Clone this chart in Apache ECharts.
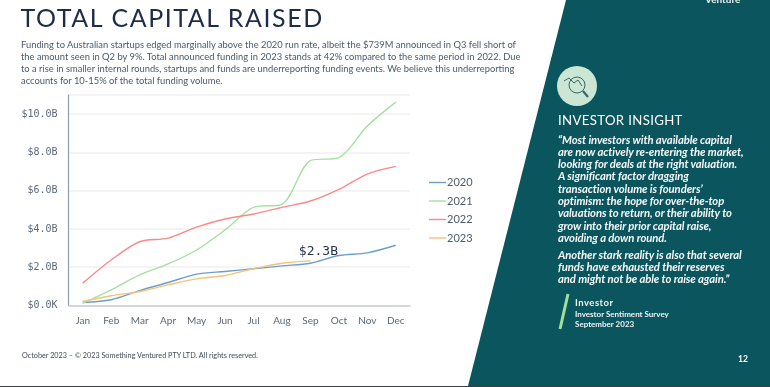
<!DOCTYPE html>
<html><head><meta charset="utf-8">
<script src="https://cdn.jsdelivr.net/npm/echarts@6/dist/echarts.min.js"></script>
<style>
html,body{margin:0;padding:0;background:#fff;width:770px;height:387px;overflow:hidden}
#c{position:absolute;left:0;top:0;width:770px;height:387px}
.t{position:absolute;white-space:nowrap;font-family:Lato,sans-serif;line-height:1}
</style></head><body>
<div id="c"></div>
<div id="txt"></div>
<script>
const months=['Jan','Feb','Mar','Apr','May','Jun','Jul','Aug','Sep','Oct','Nov','Dec'];
const v2020=[0.16,0.30,0.78,1.20,1.64,1.78,1.92,2.07,2.21,2.61,2.75,3.15];
const v2021=[0.12,0.82,1.60,2.17,2.90,3.95,5.13,5.29,7.57,7.73,9.38,10.63];
const v2022=[1.17,2.38,3.33,3.52,4.10,4.52,4.78,5.13,5.46,6.07,6.87,7.27];
const v2023=[0.21,0.51,0.73,1.08,1.39,1.57,1.92,2.21,2.33];
const callout='$2.3B';
const titleText='TOTAL CAPITAL RAISED';
const para=['Funding to Australian startups edged marginally above the 2020 run rate, albeit the $739M announced in Q3 fell short of',
'the amount seen in Q2 by 9%. Total announced funding in 2023 stands at 42% compared to the same period in 2022. Due',
'to a rise in smaller internal rounds, startups and funds are underreporting funding events. We believe this underreporting',
'accounts for 10-15% of the total funding volume.'];
const quote=['“Most investors with available capital','are now actively re-entering the market,','looking for deals at the right valuation.','A significant factor dragging','transaction volume is founders’','optimism: the hope for over-the-top','valuations to return, or their ability to','grow into their prior capital raise,','avoiding a down round.'];
const quote2=['Another stark reality is also that several','funds have exhausted their reserves','and might not be able to raise again.”'];

const teal='#0b555e';
const chart=echarts.init(document.getElementById('c'),null,{renderer:'canvas'});
function s(name,data,color){return {name,type:'line',data,smooth:0.3,symbol:'none',lineStyle:{color,width:1.4},itemStyle:{color},emphasis:{disabled:true}};}
const s23=s('2023',v2023.map((v,i)=>i===8?{value:v,label:{show:true,formatter:callout,position:'top',offset:[8,2],fontFamily:'DejaVu Sans Mono',fontSize:13,color:'#24324c'}}:v),'#f5c27a');
s23.symbol='circle';s23.symbolSize=0;s23.showSymbol=true;s23.showAllSymbol=true;
chart.setOption({
 animation:false,
 backgroundColor:'transparent',
 grid:{left:68.5,right:360,top:95,bottom:81.5,containLabel:false},
 legend:{orient:'vertical',left:424,top:172,itemWidth:17,itemHeight:14,itemGap:7.5,
  icon:'path://M0,6.3H17V7.7H0Z',
  textStyle:{fontFamily:'Lato',fontSize:11,color:'#4c5b6c',padding:[0,0,0,-4]},
  data:['2020','2021','2022','2023']},
 xAxis:{type:'category',data:months,boundaryGap:true,
  axisLine:{lineStyle:{color:'#c9ccd3',width:1.5}},axisTick:{show:false},
  axisLabel:{fontFamily:'Lato',fontSize:10,color:'#5a6878',margin:10,interval:0}},
 yAxis:{type:'value',min:0,max:11,interval:2,
  axisLine:{show:true,lineStyle:{color:'#8d9bab',width:1.2}},axisTick:{show:false},
  splitLine:{lineStyle:{color:'#f0f0f1',width:1.5}},
  axisLabel:{fontFamily:'DejaVu Sans Mono',fontSize:10,color:'#5c6a7a',margin:11,showMaxLabel:false,padding:[3,0,0,0],
   formatter:v=>v===0?'$0.0K':'$'+v.toFixed(1)+'B'}},
 series:[s('2020',v2020,'#6c9fc8'),s('2021',v2021,'#a6e0a0'),s('2022',v2022,'#f98a88'),s23],
 graphic:[
  {type:'polygon',silent:true,z:-1,shape:{points:[[566,0],[770,0],[770,386],[468,386]]},style:{fill:teal}},
  {type:'rect',silent:true,shape:{x:0,y:386,width:770,height:1},style:{fill:'#3a3f44'}},
  {type:'circle',silent:true,shape:{cx:577,cy:86,r:20},style:{fill:'#cbe7d4'}},
  {type:'circle',silent:true,shape:{cx:577,cy:85,r:8},style:{fill:'transparent',stroke:'#3d6468',lineWidth:1}},
  {type:'line',silent:true,shape:{x1:583,y1:91,x2:588,y2:97},style:{stroke:'#3d6468',lineWidth:2.2}},
  {type:'polyline',silent:true,shape:{points:[[564,81],[569,78],[574,83],[578,80],[582,86]]},style:{stroke:'#3d6468',lineWidth:1,fill:'none'}},
  {type:'line',silent:true,shape:{x1:568,y1:294,x2:560,y2:329},style:{stroke:'#9fdf9a',lineWidth:3}}
 ]
});
const box=document.getElementById('txt');
function T(str,x,cy,size,color,extra){const d=document.createElement('div');d.className='t';d.textContent=str;d.style.cssText=`left:${x}px;top:${cy-size/2}px;font-size:${size}px;color:${color};${extra||''}`;box.appendChild(d);return d;}
T(titleText,20.5,17,25,'#1f2c47','letter-spacing:1.55px;');
const paraY=[44.3,56.2,68.2,80.5];
para.forEach((l,i)=>T(l,21,paraY[i],9.37,'#4b5a6a'));
T('October 2023 – © 2023 Something Ventured PTY LTD. All rights reserved.',22,356,7.25,'#3f4b59');
T('Venture',705,-1,10,'#e8f0ef','font-weight:700;');
T('INVESTOR INSIGHT',558,121,13.2,'#fff','letter-spacing:0.35px;');
const qY=[139.5,151.7,164,176,188.6,201,213,225.3,237.6];
const qs='font-weight:700;font-style:italic;letter-spacing:-0.1px;';
quote.forEach((l,i)=>T(l,558,qY[i],11.3,'#f4f7f7',qs));
const q2Y=[254.7,267,279];
quote2.forEach((l,i)=>T(l,558,q2Y[i],11.3,'#f4f7f7',qs));
T('Investor',575,302.5,9.5,'#eef3f3','font-weight:700;letter-spacing:0.5px;');
T('Investor Sentiment Survey',575,313.5,8,'#eef3f3','font-weight:700;');
T('September 2023',575,323.7,8,'#eef3f3','font-weight:700;');
T('12',738,359.5,8.5,'#fff','font-weight:700;');
</script>
</body></html>
